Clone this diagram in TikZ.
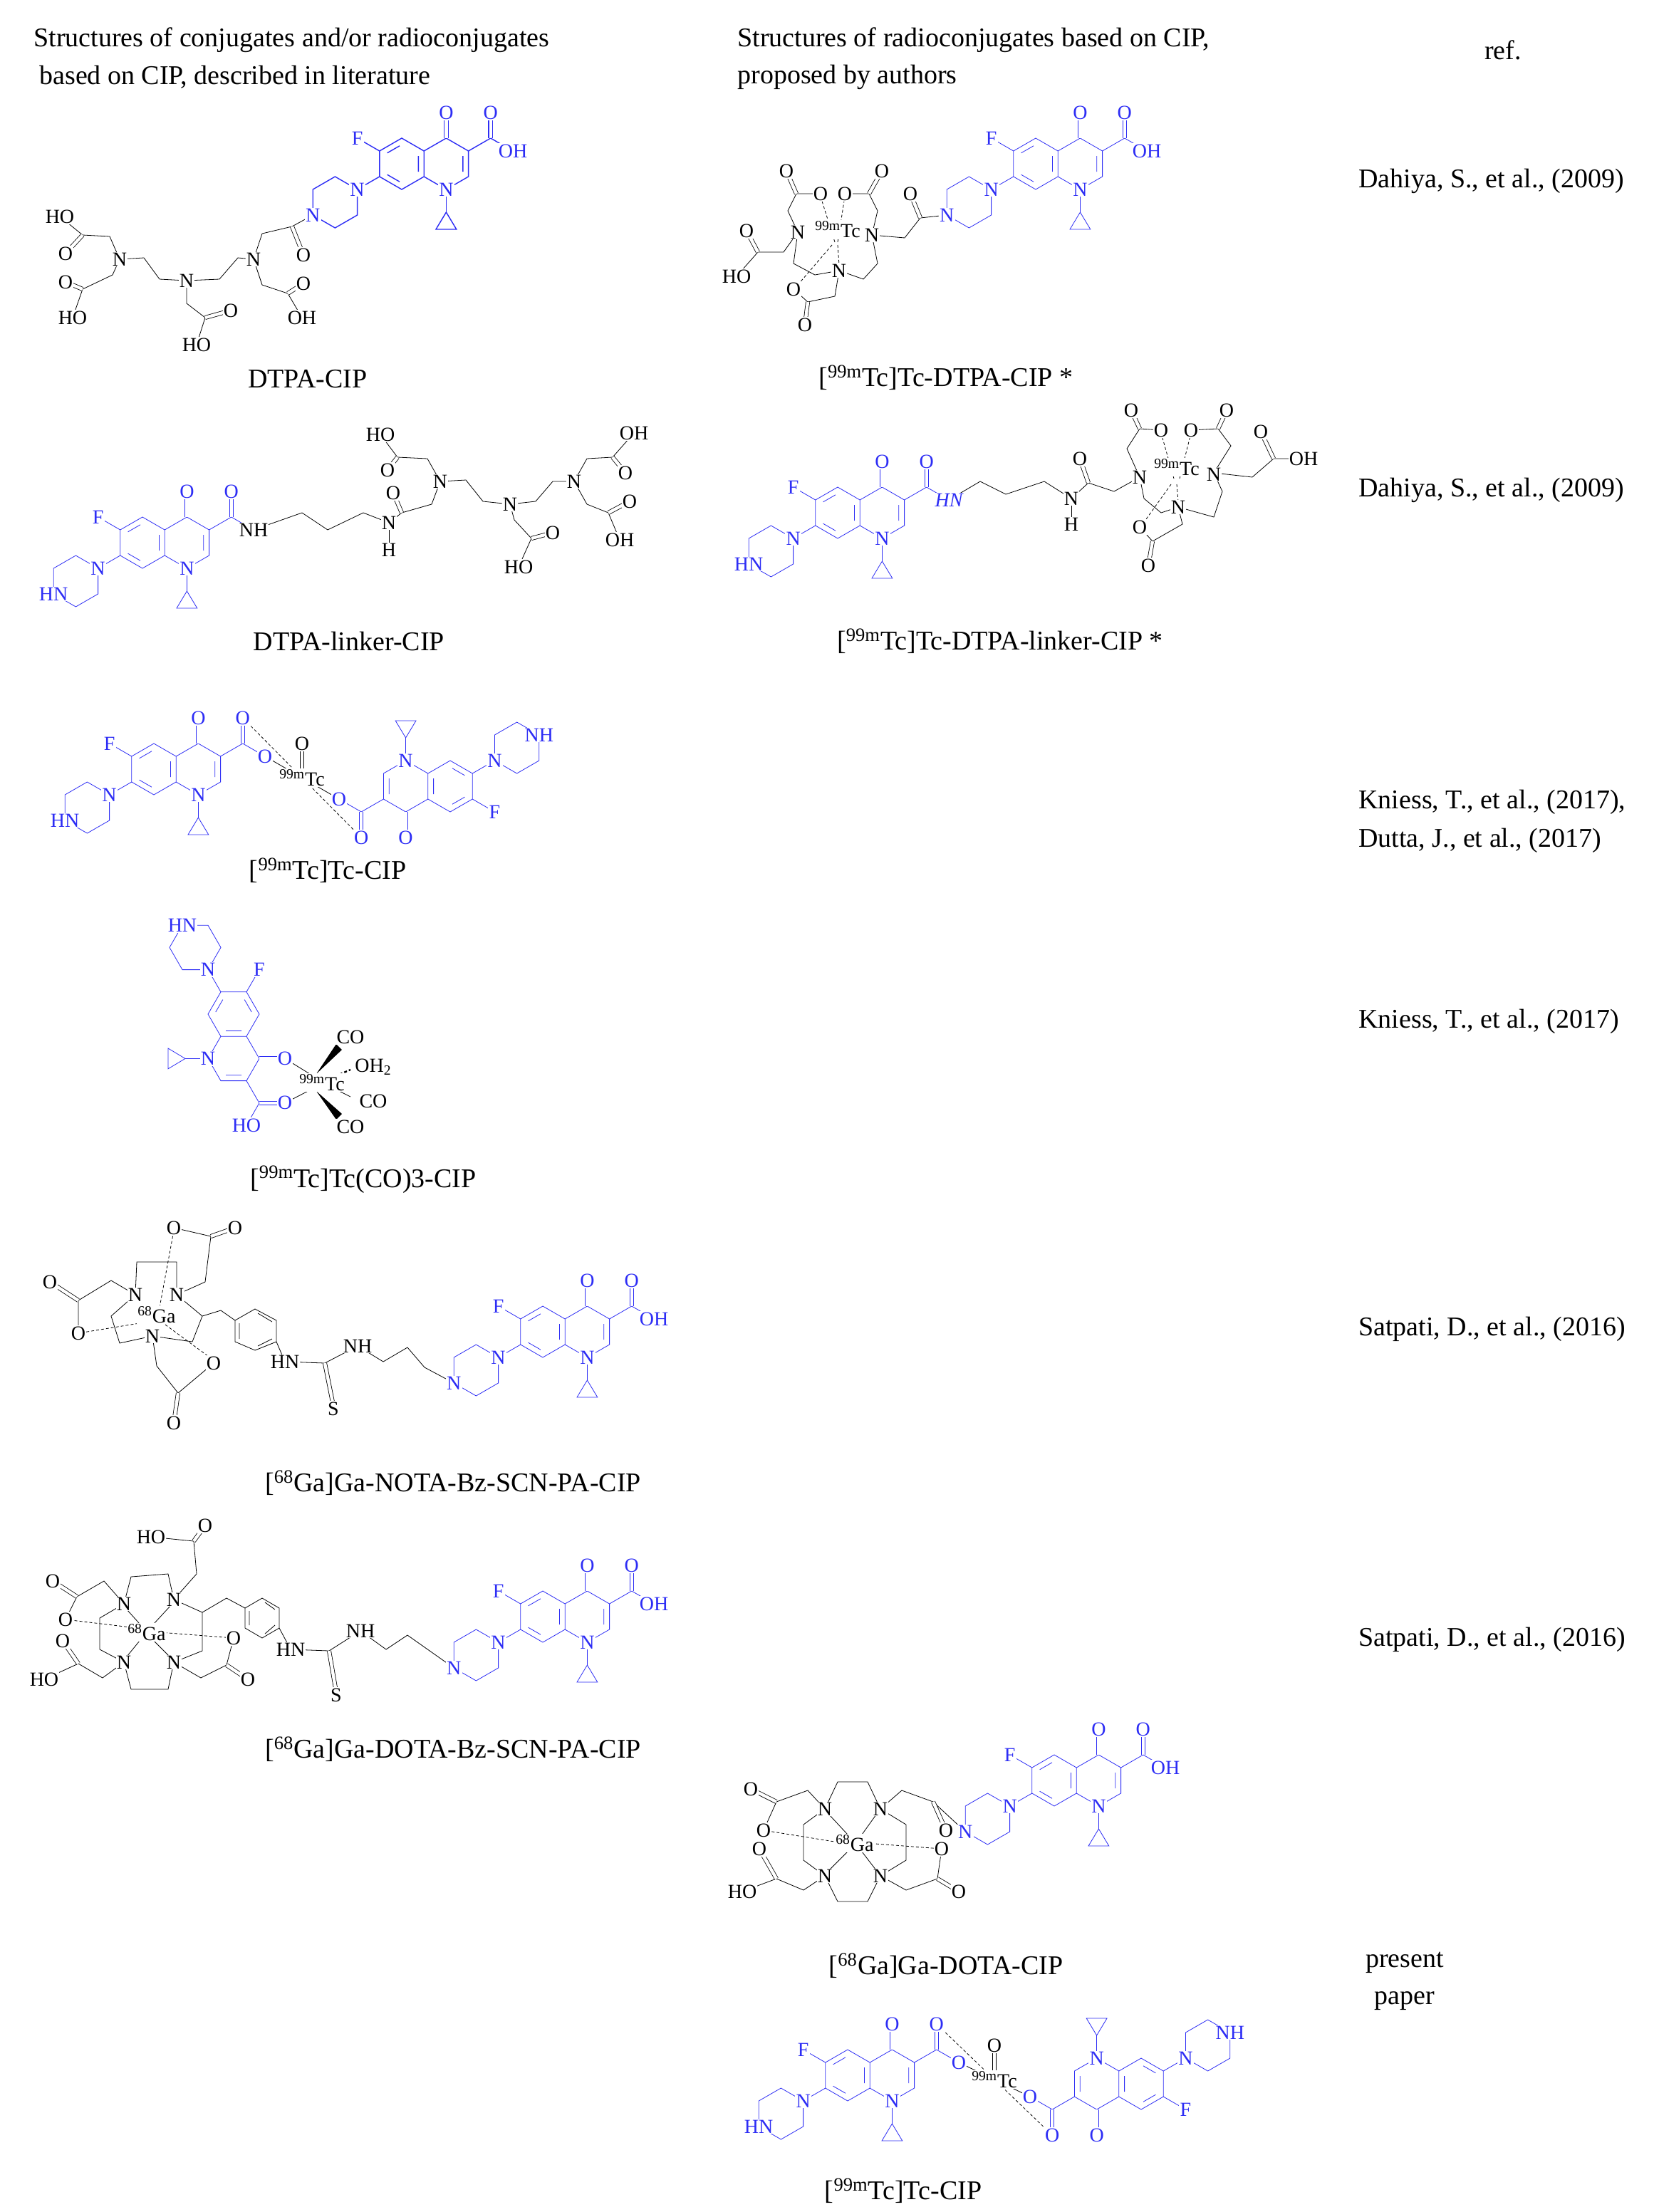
\documentclass[tikz,border=0pt]{standalone}
\usepackage{fontspec}
\setmainfont{Liberation Serif}
\pgfdeclarelayer{fg}
\pgfsetlayers{main,fg}
\definecolor{cipb}{RGB}{45,45,245}
\newcommand\At[3][]{\begin{pgfonlayer}{fg}\node[atom,#1] at (#2) {#3};\end{pgfonlayer}}
\begin{document}
\begin{tikzpicture}[x=1pt,y=-1pt,line width=0.7pt,
 atom/.style={fill=white,inner sep=0.6pt,font=\fontsize{14}{14}\selectfont},
 cipc/.style={draw=cipb,text=cipb},
 dbl/.style={double,double distance=2.2pt},
 dsh/.style={dash pattern=on 2pt off 1.5pt},
 capt/.style={font=\fontsize{19}{23}\selectfont},
 refx/.style={font=\fontsize{19}{23}\selectfont,anchor=west},
 cip/.pic={
  \begin{scope}[yscale=-1,cipc]
   \draw (0,18)--(-15.6,9)--(-15.6,-9)--(0,-18)--(15.6,-9)--(15.6,9)--cycle;
   \draw (15.6,9)--(31.2,18)--(46.8,9)--(46.8,-9)--(31.2,-18)--(15.6,-9);
   \draw (-1.5,12.6)--(-10.2,7.6) (-10.2,-7.6)--(-1.5,-12.6) (11.7,5.5)--(11.7,-5.5) (42.9,5.5)--(42.9,-5.5);
   \draw[dbl] (31.2,18)--(31.2,36);
   \draw (46.8,9)--(62.4,18);
   \draw[dbl] (62.4,18)--(62.4,36);
   \draw (62.4,18)--(78,9);
   \draw (-15.6,9)--(-31.2,18);
   \draw (31.2,-18)--(31.2,-34);
   \draw (31.2,-34)--(24,-46)--(38.4,-46)--cycle;
   \draw (-15.6,-9)--(-31.2,-18);
   \draw (-31.2,-18)--(-46.8,-9)--(-62.4,-18)--(-62.4,-36)--(-46.8,-45)--(-31.2,-36)--cycle;
   \coordinate (-nb) at (-62.4,-36); \coordinate (-oh) at (78,9);
   \coordinate (-o2) at (62.4,36); \coordinate (-o1) at (31.2,36);
   \coordinate (-c) at (62.4,18); \coordinate (-n1) at (31.2,-18);
   \begin{pgfonlayer}{fg}
    \node[atom,text=cipb] at (-31.2,18) {F};
    \node[atom,text=cipb] at (31.2,36) {O};
    \node[atom,text=cipb] at (62.4,36) {O};
    \node[atom,text=cipb] at (31.2,-18) {N};
    \node[atom,text=cipb] at (-31.2,-18) {N};
   \end{pgfonlayer}
  \end{scope}}]
\useasboundingbox[fill=white] (0,0) rectangle (1161,1553);

\node[capt,anchor=west] (h1) at (20,28) {Structures of conjugates and/or radioconjugates};
\node[capt,anchor=west] (h2) at (24,54) {based on CIP, described in literature};
\node[capt,anchor=west] (h3) at (514,28) {Structures of radioconjugates based on CIP,};
\node[capt,anchor=west] (h4) at (514,54) {proposed by authors};
\node[capt] (h5) at (1055,35) {ref.};

\node[refx] (r1) at (950,127) {Dahiya, S., et al., (2009)};
\node[refx] (r2) at (950,344) {Dahiya, S., et al., (2009)};
\node[refx] (r3) at (950,563) {Kniess, T., et al., (2017),};
\node[refx] (r4) at (950,590) {Dutta, J., et al., (2017)};
\node[refx] (r5) at (950,717) {Kniess, T., et al., (2017)};
\node[refx] (r6) at (950,933) {Satpati, D., et al., (2016)};
\node[refx] (r7) at (950,1151) {Satpati, D., et al., (2016)};
\node[capt] (r8) at (986,1378) {present};
\node[capt] (r9) at (986,1405) {paper};

\node[capt] (k1) at (216,266) {DTPA-CIP};
\node[capt] (k2) at (664,265) {[\textsuperscript{99m}Tc]Tc-DTPA-CIP *};
\node[capt] (k3) at (245,450) {DTPA-linker-CIP};
\node[capt] (k4) at (702,450) {[\textsuperscript{99m}Tc]Tc-DTPA-linker-CIP *};
\node[capt] (k5) at (230,611) {[\textsuperscript{99m}Tc]Tc-CIP};
\node[capt] (k6) at (255,828) {[\textsuperscript{99m}Tc]Tc(CO)3-CIP};
\node[capt] (k7) at (318,1041) {[\textsuperscript{68}Ga]Ga-NOTA-Bz-SCN-PA-CIP};
\node[capt] (k8) at (318,1228) {[\textsuperscript{68}Ga]Ga-DOTA-Bz-SCN-PA-CIP};
\node[capt] (k9) at (664,1380) {[\textsuperscript{68}Ga]Ga-DOTA-CIP};
\node[capt] (k10) at (634,1538) {[\textsuperscript{99m}Tc]Tc-CIP};

% Row 1 left
\pic (c1) at (282,115) {cip};
\At[text=cipb]{c1-oh}{OH}
\At[text=cipb]{c1-nb}{N}
\draw (c1-nb)--(205,159)--(184,164)--(178,182);
\draw[dbl] (205,159)--(213,179);
\draw (178,182)--(167,181)--(154,196)--(131,197)--(112,196)--(101,181)--(84,182);
\draw (84,182)--(77,166)--(58,165)--(42,152); \draw[dbl] (58,165)--(46,178);
\draw (84,182)--(79,193)--(58,203)--(51,223); \draw[dbl] (58,203)--(46,198);
\draw (131,197)--(131,213)--(144,223)--(138,242); \draw[dbl] (144,223)--(162,218);
\draw (178,182)--(184,200)--(202,206)--(212,223); \draw[dbl] (202,206)--(213,199);
\At{84,182}{N}\At{131,197}{N}\At{178,182}{N}
\At{42,152}{HO}\At{46,178}{O}\At{46,198}{O}\At{51,223}{HO}
\At{162,218}{O}\At{138,242}{HO}\At{213,199}{O}\At{212,223}{OH}\At{213,179}{O}

% Row 1 middle
\pic (c2) at (727,115) {cip};
\At[text=cipb]{c2-oh}{OH}
\At[text=cipb]{c2-nb}{N}
\draw (c2-nb)--(646,153)--(635,167)--(612,165);
\draw[dbl] (646,153)--(639,136);
\draw (560,163)--(553,148)--(559,136)--(576,136); \draw[dbl] (559,136)--(552,120);
\draw (612,165)--(616,148)--(610,136)--(593,136); \draw[dbl] (610,136)--(619,120);
\draw (560,163)--(550,177)--(532,177)--(517,194); \draw[dbl] (532,177)--(524,162);
\draw (560,163)--(557,185)--(572,193)--(589,190)--(606,196)--(616,185)--(612,165);
\draw (589,190)--(586,208)--(567,212)--(557,203); \draw[dbl] (567,212)--(565,228);
\draw[dsh] (586,170)--(576,138) (588,170)--(593,138) (584,172)--(560,200) (588,172)--(589,186);
\At{560,163}{N}\At{588,161}{\textsuperscript{99m}Tc}\At{612,165}{N}\At{589,190}{N}
\At{552,120}{O}\At{576,136}{O}\At{619,120}{O}\At{593,136}{O}\At{524,162}{O}
\At{517,194}{HO}\At{557,203}{O}\At{565,228}{O}\At{639,136}{O}

% Row 2 left
\pic (c3) at (100,381) {cip};
\At[text=cipb]{c3-nb}{HN}
\draw (c3-oh)--(212,360)--(230,372)--(255,360)--(273,367)--(282,360)--(303,354)--(309,338);
\draw[dbl] (282,360)--(276,346);
\draw (273,367)--(273,384);
\draw (309,338)--(300,322)--(279,321)--(267,305); \draw[dbl] (279,321)--(272,330);
\draw (309,338)--(327,337)--(339,352)--(358,354)--(376,352)--(388,338)--(403,338);
\draw (358,354)--(361,365)--(373,378)--(364,398); \draw[dbl] (373,378)--(388,374);
\draw (403,338)--(412,322)--(430,321)--(445,304); \draw[dbl] (430,321)--(439,332);
\draw (403,338)--(412,354)--(427,360)--(435,379); \draw[dbl] (427,360)--(442,352);
\At{c3-oh}{NH}\At{273,367}{N}\At{273,386}{H}\At{276,346}{O}
\At{309,338}{N}\At{358,354}{N}\At{403,338}{N}
\At{267,305}{HO}\At{272,330}{O}\At{388,374}{O}\At{364,398}{HO}
\At{445,304}{OH}\At{439,332}{O}\At{442,352}{O}\At{435,379}{OH}

% Row 2 middle
\pic (c4) at (588,360) {cip};
\At[text=cipb]{c4-nb}{HN}
\draw (c4-oh)--(688,338)--(706,347)--(733,338)--(752,350)--(764,339)--(782,345)--(800,335);
\draw (752,350)--(752,366);
\draw[dbl] (764,339)--(758,322);
\draw (800,335)--(791,315)--(800,301)--(815,302); \draw[dbl] (800,301)--(794,288);
\draw (852,332)--(864,313)--(855,301)--(836,302); \draw[dbl] (855,301)--(861,288);
\draw (852,332)--(879,335)--(894,322)--(915,322); \draw[dbl] (894,322)--(885,303);
\draw (800,335)--(803,350)--(815,360)--(827,356)--(852,363)--(858,345)--(852,332);
\draw (827,356)--(830,368)--(809,380)--(800,370); \draw[dbl] (809,380)--(806,397);
\draw[dsh] (824,336)--(815,304) (828,336)--(836,304) (822,340)--(802,368) (826,340)--(827,352);
\At[text=cipb,font=\fontsize{14}{14}\selectfont\itshape]{c4-oh}{HN}
\At{752,350}{N}\At{752,368}{H}\At{758,322}{O}
\At{800,335}{N}\At{826,328}{\textsuperscript{99m}Tc}\At{852,333}{N}\At{827,356}{N}
\At{794,288}{O}\At{815,302}{O}\At{861,288}{O}\At{836,302}{O}\At{885,303}{O}\At{915,322}{OH}
\At{800,370}{O}\At{806,397}{O}

% Row 3
\pic (c5) at (108,540) {cip};
\pic[rotate=180] (c6) at (316,552) {cip};
\draw (212,546)--(c5-oh) (212,546)--(c6-oh);
\draw[dsh] (212,546)--(c5-o2) (212,546)--(c6-o2);
\draw[dbl] (212,546)--(212,522);
\At[text=cipb]{c5-nb}{HN}\At[text=cipb]{c6-nb}{NH}
\At[text=cipb]{c5-oh}{O}\At[text=cipb]{c6-oh}{O}
\At{212,522}{O}\At{212,546}{\textsuperscript{99m}Tc}

% Row 4
\pic[rotate=-90] (c9) at (164,712) {cip};
\At[text=cipb]{c9-nb}{HN}
\At[text=cipb]{c9-oh}{HO}
\draw (c9-o1)--(224,758) (c9-o2)--(224,762);
\fill (222,754)--(236,733)--(240,737)--cycle;
\fill (222,766)--(236,786)--(240,782)--cycle;
\draw[dsh,line width=1.2pt] (232,757)--(246,751);
\draw (234,764)--(246,770);
\At{226,760}{\textsuperscript{99m}Tc}
\At{246,728}{CO}\At{262,749}{OH\textsubscript{2}}\At{262,773}{CO}\At{246,791}{CO}

% Row 5
\pic (c10) at (381,935) {cip};
\At[text=cipb]{c10-oh}{OH}\At[text=cipb]{c10-nb}{N}
\draw (c10-nb)--(298,960)--(286,946)--(269,956)--(251,945)--(228,957)--(200,956)--(194,942);
\draw[dbl] (228,957)--(234,987);
\draw (179,919)--(194,927)--(194,942)--(179,948)--(165,942)--(165,927)--cycle;
\draw (181,922)--(191,928) (191,940)--(181,945) (168,929)--(168,940);
\draw (165,927)--(155,920)--(142,924);
\draw (95,909)--(96,886)--(124,886)--(124,909)--(142,924)--(135,942)--(107,938)--(84,943)--(78,924)--(95,909);
\draw (95,909)--(78,899)--(55,913)--(55,936); \draw[dbl] (55,913)--(35,900);
\draw (124,909)--(144,900)--(148,868)--(122,862); \draw[dbl] (148,868)--(165,862);
\draw (107,938)--(110,959)--(125,978)--(150,957); \draw[dbl] (125,978)--(122,999);
\draw[dsh] (104,928)--(55,936) (112,918)--(122,864) (116,930)--(150,955);
\At{251,945}{NH}\At{200,956}{HN}\At{234,989}{S}
\At{95,909}{N}\At{124,909}{N}\At{107,938}{N}\At{110,923}{\textsuperscript{68}Ga}
\At{35,900}{O}\At{55,936}{O}\At{165,862}{O}\At{122,862}{O}\At{122,999}{O}\At{150,957}{O}

% Row 6
\pic (c11) at (381,1135) {cip};
\At[text=cipb]{c11-oh}{OH}\At[text=cipb]{c11-nb}{N}
\draw (c11-nb)--(303,1160)--(286,1148)--(271,1158)--(253,1145)--(231,1159)--(204,1158)--(196,1143);
\draw[dbl] (231,1159)--(236,1188);
\draw (184,1122)--(196,1129)--(196,1143)--(184,1150)--(172,1143)--(172,1129)--cycle;
\draw (186,1125)--(193,1130) (193,1141)--(186,1147) (175,1131)--(175,1141);
\draw (172,1129)--(159,1122)--(142,1132);
\draw (87,1126)--(92,1107)--(118,1105)--(122,1123)--(142,1132)--(142,1159)--(122,1167)--(118,1186)--(92,1186)--(87,1167)--(70,1158)--(70,1136)--(87,1126);
\draw (87,1126)--(73,1110)--(54,1121)--(46,1137); \draw[dbl] (54,1121)--(37,1110);
\draw (122,1123)--(138,1105)--(136,1082)--(106,1079); \draw[dbl] (136,1082)--(144,1071);
\draw (87,1167)--(72,1178)--(55,1168)--(31,1179); \draw[dbl] (55,1168)--(44,1152);
\draw (122,1167)--(141,1178)--(159,1169)--(164,1150); \draw[dbl] (159,1169)--(174,1179);
\draw[dsh] (96,1143)--(46,1137) (112,1146)--(164,1150);
\draw[line width=0.4pt] (98,1140)--(89,1130) (108,1140)--(120,1127) (98,1152)--(89,1163) (108,1152)--(120,1164);
\At{253,1145}{NH}\At{204,1158}{HN}\At{236,1190}{S}
\At{87,1126}{N}\At{122,1123}{N}\At{87,1167}{N}\At{122,1167}{N}\At{103,1146}{\textsuperscript{68}Ga}
\At{37,1110}{O}\At{46,1137}{O}\At{144,1071}{O}\At{106,1079}{HO}\At{44,1152}{O}\At{31,1179}{HO}
\At{174,1179}{O}\At{164,1150}{O}

% Row 7
\pic (c12) at (740,1250) {cip};
\At[text=cipb]{c12-oh}{OH}\At[text=cipb]{c12-nb}{N}
\draw (579,1270)--(588,1251)--(609,1251)--(618,1270)--(636,1281)--(636,1306)--(618,1317)--(609,1335)--(588,1335)--(579,1317)--(564,1306)--(564,1281)--(579,1270);
\draw (579,1270)--(567,1257)--(545,1265)--(536,1285); \draw[dbl] (545,1265)--(527,1256);
\draw (618,1270)--(633,1257)--(655,1265)--(c12-nb); \draw[dbl] (655,1265)--(664,1285);
\draw (579,1317)--(564,1327)--(545,1319)--(521,1328); \draw[dbl] (545,1319)--(533,1298);
\draw (618,1317)--(636,1327)--(658,1319)--(661,1298); \draw[dbl] (658,1319)--(673,1328);
\draw[dsh] (592,1294)--(536,1285) (608,1294)--(661,1298);
\draw[line width=0.4pt] (595,1288)--(582,1274) (605,1288)--(615,1274) (595,1300)--(582,1313) (605,1300)--(615,1313);
\At{579,1270}{N}\At{618,1270}{N}\At{579,1317}{N}\At{618,1317}{N}\At{600,1294}{\textsuperscript{68}Ga}
\At{527,1256}{O}\At{536,1285}{O}\At{664,1285}{O}\At{533,1298}{O}\At{521,1328}{HO}\At{661,1298}{O}\At{673,1328}{O}

% Row 8
\pic (c7) at (595,1457) {cip};
\pic[rotate=180] (c8) at (801,1463) {cip};
\draw (698,1460)--(c7-oh) (698,1460)--(c8-oh);
\draw[dsh] (698,1460)--(c7-o2) (698,1460)--(c8-o2);
\draw[dbl] (698,1460)--(698,1436);
\At[text=cipb]{c7-nb}{HN}\At[text=cipb]{c8-nb}{NH}
\At[text=cipb]{c7-oh}{O}\At[text=cipb]{c8-oh}{O}
\At{698,1436}{O}\At{698,1460}{\textsuperscript{99m}Tc}
\end{tikzpicture}
\end{document}
